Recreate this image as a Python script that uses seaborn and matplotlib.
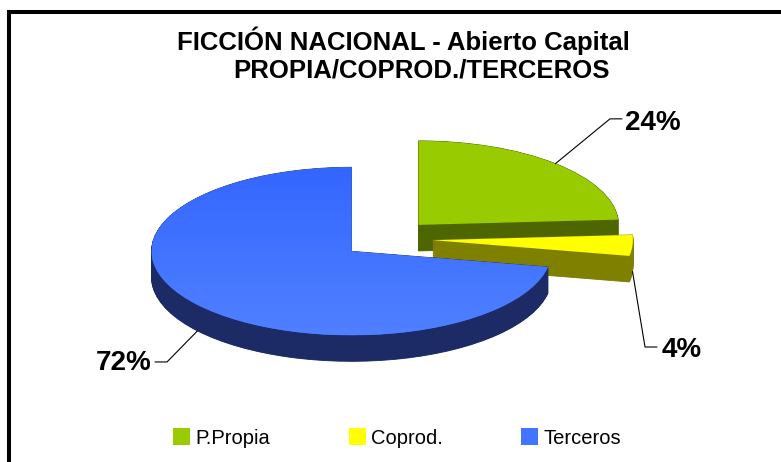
import numpy as np
import matplotlib
matplotlib.use("Agg")
import matplotlib.pyplot as plt
from matplotlib.patches import Wedge, Rectangle
from matplotlib.colors import LinearSegmentedColormap
import seaborn as sns

labels = ["P.Propia", "Coprod.", "Terceros"]
shares = [24, 4, 72]
pct_labels = ["24%", "4%", "72%"]
top_colors = ["#99CC00", "#FFFF00", "#4275FF"]
side_colors = ["#4D6600", "#808000", "#1C2B66"]

sns.set_theme(style="white")
plt.rcParams['font.family'] = ['Liberation Sans', 'DejaVu Sans']
plt.rcParams['text.color'] = 'black'

fig = plt.figure(figsize=(7.81, 4.62), dpi=100)
ax = fig.add_axes([0, 0, 1, 1])

wedges, _ = ax.pie(shares, explode=[0.23] * 3, startangle=90, counterclock=False,
                   colors=top_colors, radius=1, wedgeprops=dict(linewidth=0))

# fake 3d: stack copies of each slice downwards in the darker colour
depth = 0.31
for i, w in enumerate(wedges):
    w.set_zorder(2 * i + 2)
    cx, cy = w.center
    for k in np.linspace(depth, 0.0, 40):
        ax.add_patch(Wedge((cx, cy - k), w.r, w.theta1, w.theta2,
                           facecolor=side_colors[i], edgecolor=side_colors[i],
                           linewidth=0.6, zorder=2 * i + 1))

# light vertical gradient on the big blue slice
bw = wedges[2]
bx, by = bw.center
cmap = LinearSegmentedColormap.from_list("blue_top", ["#3366FF", "#5080FF"])
grad = np.linspace(0, 1, 256).reshape(-1, 1)
im = ax.imshow(grad, cmap=cmap, extent=(bx - 1, bx + 1, by - 1, by + 1),
               origin="upper", aspect="auto", zorder=bw.get_zorder() + 0.5)
im.set_clip_path(bw)

ax.set_xlim(-1.935, 1.97)
ax.set_ylim(-2.655, 2.845)
ax.set_aspect("auto")
ax.axis("off")

# percentage labels with leader lines
label_pos = [(1.33, 1.30), (1.475, -1.405), (-1.315, -1.56)]
elbows = [((1.115, 1.43), (1.175, 1.43)),
          ((1.29, -1.286), (1.35, -1.286)),
          ((-1.10, -1.464), (-1.16, -1.464))]
for i, w in enumerate(wedges):
    cx, cy = w.center
    mid = np.deg2rad((w.theta1 + w.theta2) / 2)
    axp = cx + w.r * np.cos(mid)
    ayp = cy + w.r * np.sin(mid)
    if np.sin(mid) < 0:
        ayp -= depth
    (ex, ey), (fx, fy) = elbows[i]
    ax.plot([axp, ex, fx], [ayp, ey, fy], color="black", lw=0.8, zorder=10)
    ax.text(label_pos[i][0], label_pos[i][1], pct_labels[i], ha="center",
            va="baseline", fontsize=20, fontweight="bold", zorder=11)

fig.text(403 / 781, 1 - 50 / 462, "FICCIÓN NACIONAL - Abierto Capital",
         ha="center", va="baseline", fontsize=18.5, fontweight="bold")
fig.text(421 / 781, 1 - 78 / 462, "PROPIA/COPROD./TERCEROS",
         ha="center", va="baseline", fontsize=18.5, fontweight="bold")

ax.legend(wedges, labels, loc="center", bbox_to_anchor=(397 / 781, 1 - 438 / 462),
          bbox_transform=fig.transFigure, ncol=3, frameon=False, fontsize=14.5,
          handlelength=0.85, handleheight=0.85, handletextpad=0.25, columnspacing=3.9)

# chart frame (only left and top edges visible in the picture)
fig.add_artist(Rectangle((9 / 781, -0.5), 2, 1.5 - 12 / 462, transform=fig.transFigure,
                         fill=False, edgecolor="black", linewidth=2.9))

fig.savefig("out.png", dpi=100)
